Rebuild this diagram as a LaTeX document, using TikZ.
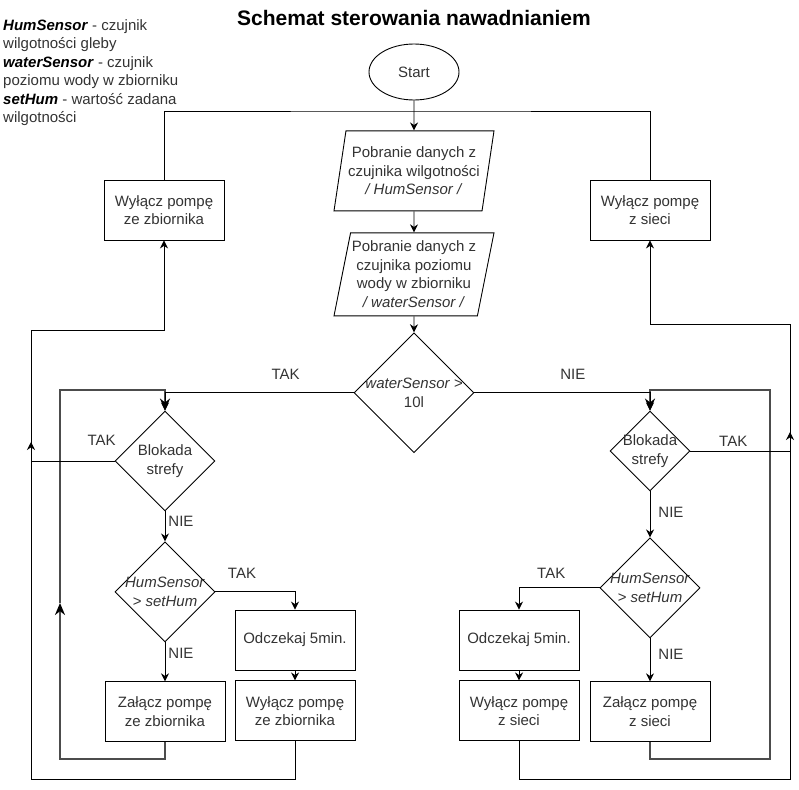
\documentclass[tikz,border=0pt]{standalone}
\usepackage{fontspec}
\setmainfont{Liberation Sans}
\usepackage{tikz}
\usetikzlibrary{arrows.meta, positioning, shapes.geometric}
\tikzstyle{base} = [font=\fontsize{15}{18.5}\selectfont, text=black!80, align=center]
\tikzstyle{block} = [base, rectangle, draw, line width=0.9pt,
  minimum width=120pt, minimum height=60pt, inner sep=2pt]
\tikzstyle{io} = [base, trapezium, trapezium left angle=76, trapezium right angle=104,
  trapezium stretches body, draw, line width=0.9pt, minimum width=160pt,
  minimum height=80pt, inner sep=0pt]
\tikzstyle{decision} = [base, diamond, aspect=1, draw, line width=0.9pt, inner sep=-6pt]
\tikzstyle{startstop} = [base, ellipse, draw, line width=0.9pt,
  minimum width=90pt, minimum height=56pt]
\tikzstyle{lbl} = [base, inner sep=0pt]
\tikzstyle{conn} = [line width=0.9pt]
\tikzstyle{flow} = [conn, -{Stealth[length=8pt, width=8pt]}]
\tikzstyle{back} = [line width=2.2pt, draw=black!70, -{Stealth[length=12pt, width=10pt, color=black]}]

\begin{document}
\begin{tikzpicture}[x=1pt, y=-1pt]
    \useasboundingbox (0,0) rectangle (799,789);
    \node[base, font=\fontsize{21}{25}\selectfont\bfseries, text=black] (title) at (414,17.5) {Schemat sterowania nawadnianiem};
    \node[lbl, anchor=north west, align=left] (legend) at (3,19) {\textcolor{black}{\textbf{\textit{HumSensor}}} - czujnik\\wilgotności gleby\\\textcolor{black}{\textbf{\textit{waterSensor}}} - czujnik\\poziomu wody w zbiorniku\\\textcolor{black}{\textbf{\textit{setHum}}} - wartość zadana\\wilgotności};

    \node[startstop] (start) at (414,72) {Start};
    \node[io, below=30pt of start] (readhum) {Pobranie danych z\\czujnika wilgotności\\\textit{/ HumSensor /}};
    \node[io, minimum height=83pt, below=21pt of readhum] (readwater) {Pobranie danych z\\czujnika poziomu\\wody w zbiorniku\\\textit{/ waterSensor /}};
    \node[decision, minimum size=120pt, below=16pt of readwater] (level) {\textit{waterSensor >}\\10l};

    \node[block] (stop1) at (164,210) {Wyłącz pompę\\ze zbiornika};
    \node[block] (stop2) at (650,210) {Wyłącz pompę\\z sieci};

    \node[decision, minimum size=100pt] (lock1) at (165,461) {Blokada\\strefy};
    \node[decision, minimum size=100pt, below=30pt of lock1] (cmp1) {\textit{HumSensor}\\\textit{> setHum}};
    \node[block, below=39pt of cmp1] (on1) {Załącz pompę\\ze zbiornika};
    \node[block] (wait1) at (295,640) {Odczekaj 5min.};
    \node[block, below=10pt of wait1] (off1) {Wyłącz pompę\\ze zbiornika};

    \node[decision, minimum size=80pt] (lock2) at (650,451) {Blokada\\strefy};
    \node[decision, minimum size=100pt, below=46pt of lock2] (cmp2) {\textit{HumSensor}\\\textit{> setHum}};
    \node[block, below=43pt of cmp2] (on2) {Załącz pompę\\z sieci};
    \node[block] (wait2) at (519,640) {Odczekaj 5min.};
    \node[block, below=10pt of wait2] (off2) {Wyłącz pompę\\z sieci};

    \coordinate (merge) at (414,111);
    \coordinate (ltak) at (31,442);
    \coordinate (rtak) at (790,432);
    \coordinate (lbot) at (31,779);
    \coordinate (ltop) at (31,330);
    \coordinate (rbot) at (790,779);
    \coordinate (rtop) at (790,324);
    \coordinate (lback) at (60,759);
    \coordinate (lmid) at (60,603);
    \coordinate (lhigh) at (60,390);
    \coordinate (rback) at (770,759);
    \coordinate (rhigh) at (770,390);

    \draw[back] (on1.south) |- (lback) -- (lmid);
    \draw[back] (lmid) -- (lhigh) -| (lock1.north);
    \draw[back] (on2.south) |- (rback) -- (rhigh) -| (lock2.north);

    \draw[flow] (start) -- (readhum);
    \draw[conn] (stop1.north) |- (merge) -| (stop2.north);
    \draw[flow] (readhum) -- (readwater);
    \draw[flow] (readwater) -- (level);
    \draw[flow] (level.west) -| (lock1.north) node[lbl, pos=.18, above=12.5pt] {TAK};
    \draw[flow] (level.east) -| (lock2.north) node[lbl, pos=.28, above=12.5pt] {NIE};
    \draw[flow] (lock1.west) -| (ltak) node[lbl, pos=.077, above=15.5pt] {TAK};
    \draw[flow] (lock2.east) -| (rtak) node[lbl, pos=.215, above=3.6pt] {TAK};
    \draw[flow] (off1.south) |- (lbot) -- (ltop) -| (stop1.south);
    \draw[flow] (off2.south) |- (rbot) -- (rtop) -| (stop2.south);
    \draw[flow] (lock1) -- (cmp1) node[lbl, pos=.32, right=3pt] {NIE};
    \draw[flow] (cmp1.east) -| (wait1.north) node[lbl, pos=.167, above=12.6pt] {TAK};
    \draw[flow] (cmp1) -- (on1) node[lbl, pos=.29, right=3pt] {NIE};
    \draw[flow] (wait1) -- (off1);
    \draw[flow] (lock2) -- (cmp2) node[lbl, pos=.46, right=8pt] {NIE};
    \draw[flow] (cmp2.west) -| (wait2.north) node[lbl, pos=.3, above=8.6pt] {TAK};
    \draw[flow] (cmp2) -- (on2) node[lbl, pos=.38, right=8pt] {NIE};
    \draw[flow] (wait2) -- (off2);
  \end{tikzpicture}
\end{document}
